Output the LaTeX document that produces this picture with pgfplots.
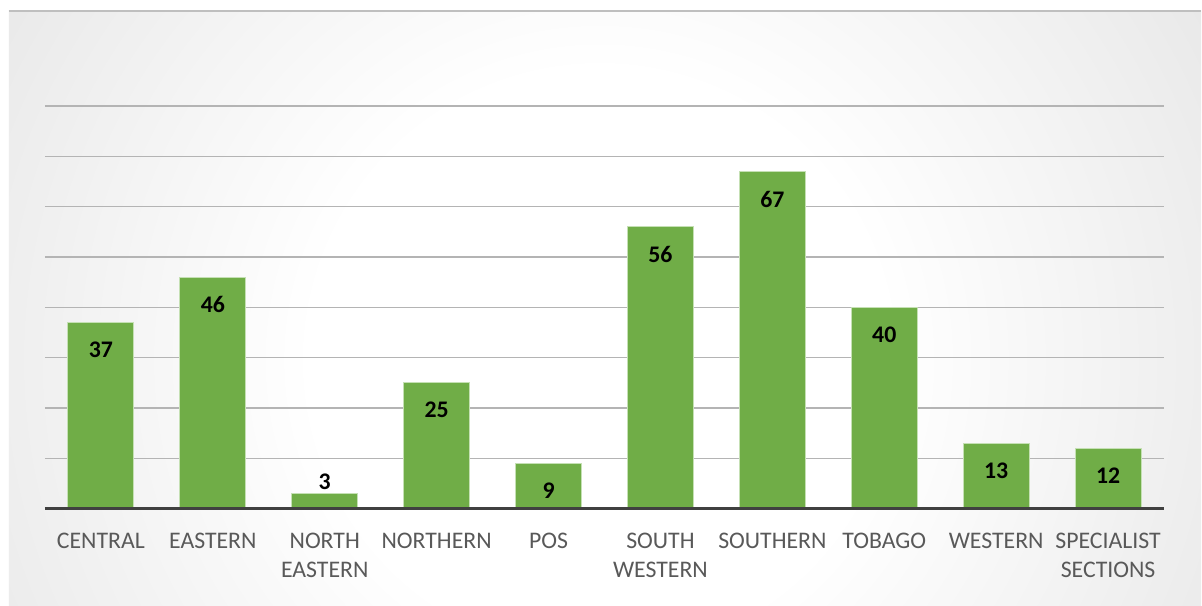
\documentclass[border=0pt]{standalone}
\usepackage{pgfplots}
\pgfplotsset{compat=1.18}
\usepackage{fontspec}
\setmainfont{Carlito}
\definecolor{barGreen}{HTML}{70AD47}
\definecolor{barEdge}{HTML}{C5E0B4}
\definecolor{gridGray}{HTML}{B4B4B4}
\definecolor{axisDark}{HTML}{404040}
\definecolor{tickGray}{HTML}{595959}
\definecolor{bgMid}{HTML}{CFCFCF}
\definecolor{bgEdge}{HTML}{C2C2C2}
\definecolor{frameGray}{HTML}{BFBFBF}
\pgfdeclareradialshading{bgshade}{\pgfpoint{0bp}{0bp}}{color(0bp)=(white); color(10bp)=(white); color(41bp)=(bgMid); color(48bp)=(bgEdge); color(50bp)=(bgEdge)}
\begin{document}
\begin{tikzpicture}
\fill[white] (-22.5pt,-48.5pt) rectangle (578.5pt,254.5pt);
\begin{scope}
\clip (-18pt,-48.5pt) rectangle (578.5pt,249pt);
\shade[shading=bgshade] (277.5pt,74.5pt) circle (360pt);
\end{scope}
\draw[frameGray, line width=1pt] (-18pt,249pt) -- (578.5pt,249pt);
\begin{axis}[
  scale only axis, width=560pt, height=201.5pt,
  xmin=-0.5, xmax=9.5, ymin=0, ymax=80,
  ytick={10,20,...,80}, yticklabels={}, ymajorgrids,
  grid style={gridGray, line width=0.75pt},
  xtick={0,...,9},
  xticklabels={CENTRAL, EASTERN, {NORTH\\EASTERN}, NORTHERN, POS, {SOUTH\\WESTERN}, SOUTHERN, TOBAGO, WESTERN, {SPECIALIST\\SECTIONS}},
  axis line style={draw=none}, tick style={draw=none},
  ybar, bar width=33pt, bar shift=0pt,
  xticklabel style={font=\fontsize{11.9}{14.5}\selectfont, text=tickGray, align=center, anchor=north, inner sep=0pt, yshift=-8pt},
  nodes near coords={\pgfmathprintnumber[assume math mode=true]{\pgfplotspointmeta}},
  nodes near coords style={font=\bfseries\fontsize{11.9}{14}\selectfont, text=black, anchor=north, inner sep=0pt, yshift=-9.5pt},
  clip=false,
]
\addplot[fill=barGreen, draw=barEdge, line width=0.5pt] coordinates {(0,37) (1,46) (3,25) (4,9) (5,56) (6,67) (7,40) (8,13) (9,12)};
\addplot[fill=barGreen, draw=barEdge, line width=0.5pt, nodes near coords style={anchor=south, yshift=11pt}] coordinates {(2,3)};
\draw[axisDark, line width=1.5pt] (axis cs:-0.5,0) -- (axis cs:9.5,0);
\end{axis}
\end{tikzpicture}
\end{document}
